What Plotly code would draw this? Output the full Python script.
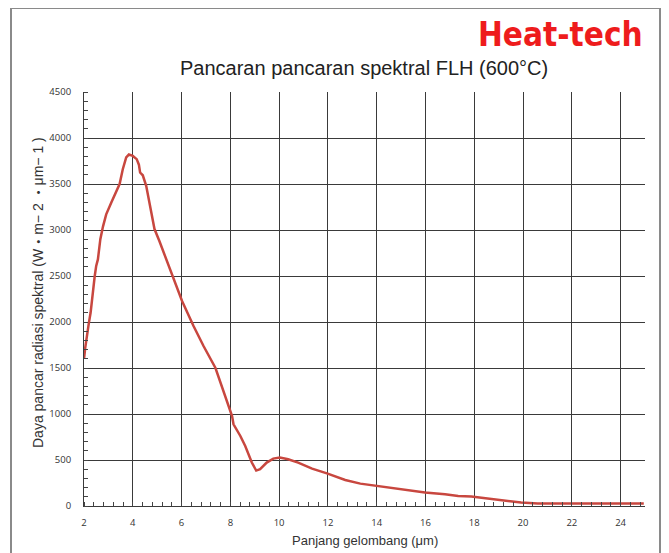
import plotly.graph_objects as go

wavelength_um = [2.0, 2.05, 2.2, 2.27, 2.44, 2.5, 2.57, 2.67, 2.78, 2.91, 3.12, 3.32, 3.46, 3.59,
                 3.73, 3.84, 4.0, 4.16, 4.25, 4.30, 4.41, 4.55, 4.68, 4.89, 5.09, 5.27, 5.5, 5.68,
                 6.02, 6.49, 6.9, 7.39, 7.59, 7.86, 8.07, 8.13, 8.41, 8.61, 8.88, 9.06, 9.22, 9.49,
                 9.76, 10.03, 10.37, 10.78, 11.35, 11.96, 12.71, 13.33, 14.0, 14.75, 15.98, 16.8,
                 17.34, 17.88, 18.56, 19.24, 19.92, 20.6, 21.5, 23.0, 24.95]
radiance = [1600, 1720, 1990, 2100, 2500, 2610, 2680, 2900, 3040, 3170, 3300, 3420, 3500, 3660,
            3790, 3820, 3805, 3770, 3710, 3625, 3595, 3480, 3315, 3010, 2880, 2755, 2590, 2460,
            2228, 1957, 1739, 1500, 1350, 1124, 978, 888, 761, 652, 472, 385, 400, 472,
            515, 526, 508, 472, 406, 355, 283, 243, 217, 192, 146, 127,
            109, 102, 80, 62, 37, 26, 25, 25, 26]

x_ticks = [2, 4, 6, 8, 10, 12, 14, 16, 18, 20, 22, 24]
y_ticks = [0, 500, 1000, 1500, 2000, 2500, 3000, 3500, 4000, 4500]

title_text = "Pancaran pancaran spektral FLH (600°C)"
x_title = "Panjang gelombang (μm)"
y_title = "Daya pancar radiasi spektral (W・m− 2 ・μm− 1 )"
brand = "Heat-tech"

fig = go.Figure()
fig.add_trace(go.Scatter(x=wavelength_um, y=radiance, mode="lines",
                         line=dict(color="#c8473f", width=2.5),
                         showlegend=False, hoverinfo="skip"))

OFF = 8  # page body margin
W, H = 669 - OFF, 553 - OFF
ml, mr, mt, mb = 84 - OFF, 24, 92 - OFF, 47
pw, ph = W - ml - mr, H - mt - mb

def px_x(p):
    return (p - OFF - ml) / pw

def px_y(p):
    return (H - mb - (p - OFF)) / ph

tick_font = dict(family="Open Sans, Noto Sans, sans-serif", size=9.5, color="#333")

fig.update_layout(
    width=W, height=H,
    margin=dict(l=ml, r=mr, t=mt, b=mb, pad=0),
    paper_bgcolor="white", plot_bgcolor="white",
    xaxis=dict(range=[2, 25], tickvals=x_ticks, showgrid=True, gridcolor="#3a3a3a", gridwidth=1,
               showline=True, linecolor="#3a3a3a", linewidth=1, zeroline=False,
               ticks="", tickfont=tick_font, ticklabelstandoff=8,
               minor=dict(dtick=0.4, tick0=2, ticks="inside", ticklen=4, tickcolor="#444", showgrid=False)),
    yaxis=dict(range=[0, 4500], tickvals=y_ticks, showgrid=True, gridcolor="#3a3a3a", gridwidth=1,
               showline=True, linecolor="#3a3a3a", linewidth=1, zeroline=False,
               ticks="", tickfont=tick_font, ticklabelstandoff=10,
               minor=dict(dtick=100, tick0=0, ticks="inside", ticklen=4, tickcolor="#444", showgrid=False)),
    shapes=[dict(type="rect", xref="paper", yref="paper",
                 x0=px_x(11), x1=px_x(660), y0=px_y(560), y1=px_y(8),
                 line=dict(color="#8a8a8a", width=2), fillcolor="rgba(0,0,0,0)", layer="below")],
    annotations=[
        dict(text=brand, xref="paper", yref="paper", x=px_x(645), y=px_y(34),
             xanchor="right", yanchor="middle", showarrow=False,
             font=dict(family="Liberation Sans Narrow, DejaVu Sans Condensed, sans-serif",
                       size=33, color="#ee1c1c", weight="bold")),
        dict(text=title_text, xref="paper", yref="paper", x=px_x(364), y=px_y(68),
             xanchor="center", yanchor="middle", showarrow=False,
             font=dict(family="Liberation Sans, Arial, sans-serif", size=20, color="#222")),
        dict(text=x_title, xref="paper", yref="paper", x=px_x(365), y=px_y(540),
             xanchor="center", yanchor="middle", showarrow=False,
             font=dict(family="Liberation Sans, Arial, sans-serif", size=13, color="#333")),
        dict(text=y_title, xref="paper", yref="paper", x=px_x(38), y=px_y(293),
             xanchor="center", yanchor="middle", showarrow=False, textangle=-90,
             font=dict(family="Liberation Sans, Noto Sans CJK JP, sans-serif", size=14, color="#333")),
    ],
)

fig.write_html("out.html")
